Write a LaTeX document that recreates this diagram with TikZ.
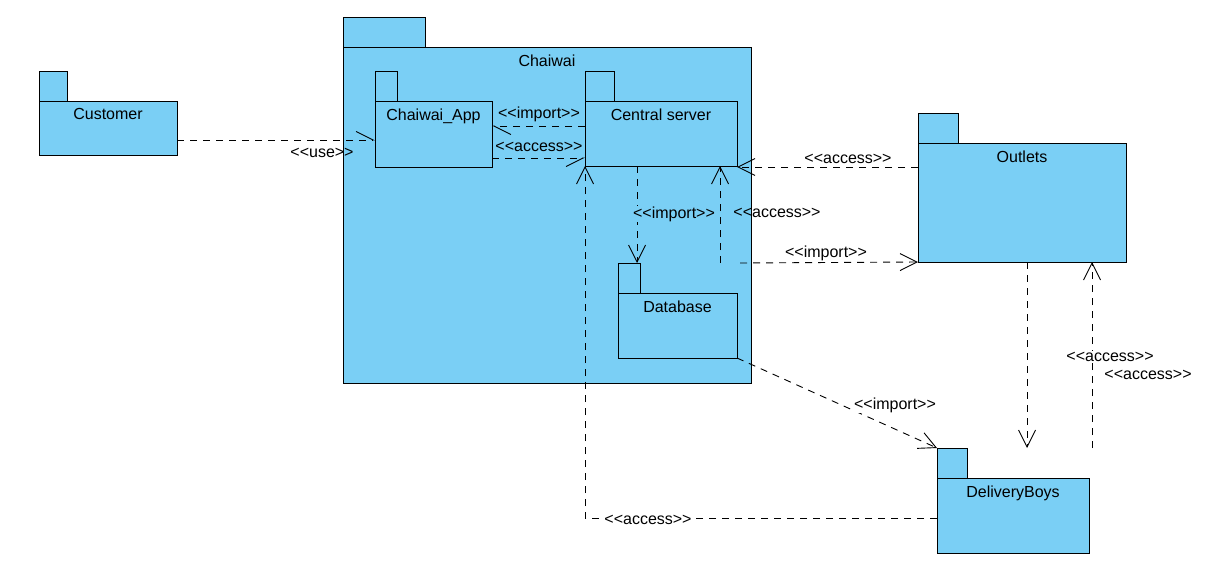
\documentclass[tikz,border=0pt]{standalone}
\usepackage{fontspec}
\setmainfont{Liberation Sans}
\usetikzlibrary{arrows.meta,calc,positioning}
\definecolor{pkgblue}{RGB}{122,207,245}

\newcommand{\stereo}[1]{<{}<#1>{}>}

\tikzset{
	pkg/.style={draw, fill=pkgblue, line width=0.9pt, anchor=north west, inner sep=0pt, outer sep=0pt},
	pkgtab/.style={pkg, anchor=south west, minimum height=30pt},
	pkgname/.style={anchor=north, inner sep=0pt, yshift=-7.5pt},
	dep/.style={line width=0.9pt, dash pattern=on 7pt off 6pt, -{Straight Barb[length=17pt,width=17pt]}},
	depl/.style={dep, -{Straight Barb[length=17pt,width=17pt,harpoon]}},
	depr/.style={dep, -{Straight Barb[length=17pt,width=17pt,harpoon,swap]}},
	lbl/.style={inner sep=1pt},
	lblw/.style={lbl, fill=white},
	lblb/.style={lbl, fill=pkgblue}
}

\begin{document}
\begin{tikzpicture}[x=1pt, y=-1pt, font=\fontsize{16}{19}\selectfont]
		\useasboundingbox (0,0) rectangle (1226,570);
		
		% packages
		\node[pkg, minimum width=138pt, minimum height=54pt, label={[pkgname]north:Customer}] (cust) at (39,101) {};
		\node[pkgtab, minimum width=28pt] (custtab) at (cust.north west) {};
		\node[pkg, minimum width=408pt, minimum height=336pt, label={[pkgname]north:Chaiwai}] (chai) at (343,47) {};
		\node[pkgtab, minimum width=82pt] (chaitab) at (chai.north west) {};
		\node[pkg, minimum width=117pt, minimum height=66pt, label={[pkgname]north:Chaiwai\_App}] (app) at (375,101) {};
		\node[pkgtab, minimum width=22pt] (apptab) at (app.north west) {};
		\node[pkg, minimum width=152pt, minimum height=65pt, label={[pkgname]north:Central server}] (cs) at (585,101) {};
		\node[pkgtab, minimum width=29pt] (cstab) at (cs.north west) {};
		\node[pkg, minimum width=119pt, minimum height=65pt, label={[pkgname]north:Database}] (db) at (618,293) {};
		\node[pkgtab, minimum width=22pt] (dbtab) at (db.north west) {};
		\node[pkg, minimum width=208pt, minimum height=119pt, label={[pkgname]north:Outlets}] (out) at (918,143) {};
		\node[pkgtab, minimum width=40pt] (outtab) at (out.north west) {};
		\node[pkg, minimum width=152pt, minimum height=75pt, label={[pkgname]north:DeliveryBoys}] (boys) at (937,478) {};
		\node[pkgtab, minimum width=30pt] (boystab) at (boys.north west) {};
		
		% bends
		\coordinate (csbend) at (720,263);
		\coordinate (boysbend) at (585,518);
		
		% dependencies
		\draw[depl] (cust.east |- 0,140) -- (app.west |- 0,140);
		\draw[depl] (cs.west |- 0,126) -- (app.east |- 0,126);
		\draw[depr] (app.east |- 0,158) -- (cs.west |- 0,158);
		\draw[dep] (cs.south -| 637,0) -- (dbtab.north -| 637,0);
		\draw[dep] (out.west |- 0,167) -- (cs.east |- 0,167);
		\draw[dep] (csbend) -- (cs.south -| csbend);
		\draw[dep] ([xshift=20pt]csbend) -- (out.south west);
		\draw[dep] (db.south east) -- (boystab.north west);
		\draw[dep] (out.south -| 1027,0) -- (boystab.north -| 1027,0);
		\draw[dep] (boystab.north -| 1092,0) -- (out.south -| 1092,0);
		\draw[dep] (boys.west |- boysbend) -- (boysbend) -- (cs.south west);
		
		% stereotypes
		\node[lbl] (useL) at (322,153) {\stereo{use}};
		\node[lbl] (appimpL) at (539,114) {\stereo{import}};
		\node[lbl] (appaccL) at (539,147) {\stereo{access}};
		\node[lblb] (dbimpL) at (674,214) {\stereo{import}};
		\node[lblw] (outaccL) at (848,159) {\stereo{access}};
		\node[lbl] (csaccL) at (777,213) {\stereo{access}};
		\node[lbl] (outimpL) at (826,253) {\stereo{import}};
		\node[lblw] (boysimpL) at (895,405) {\stereo{import}};
		\node[lblw] (boysaccL) at (1110,357) {\stereo{access}};
		\node[lbl] (outaccLb) at (1148,375) {\stereo{access}};
		\node[lblw] (csaccLb) at (648,520) {\stereo{access}};
\end{tikzpicture}
\end{document}
